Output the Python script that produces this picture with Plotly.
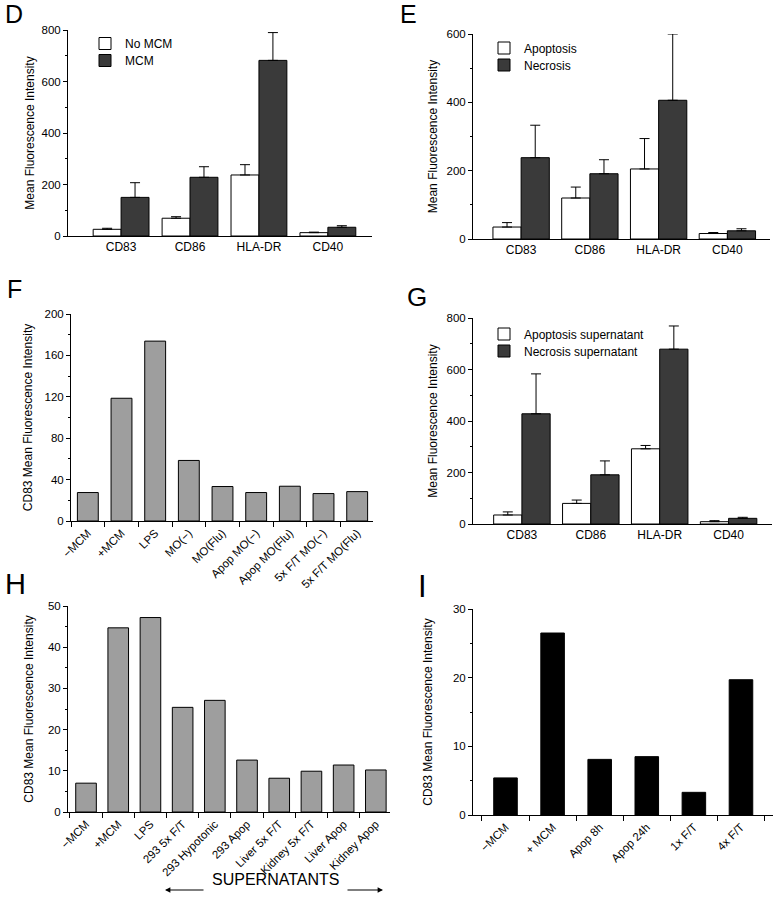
import plotly.graph_objects as go

W, H = 781, 900
FONT = "Liberation Sans, Arial, Helvetica, sans-serif"

# ---------------- data ----------------
markers = ["CD83", "CD86", "HLA-DR", "CD40"]

d_no_mcm = [26, 69, 237, 13]
d_no_mcm_err = [4, 6, 40, 2]
d_mcm = [150, 228, 682, 34]
d_mcm_err = [57, 41, 108, 6]

e_apop = [35, 120, 205, 16]
e_apop_err = [13, 32, 89, 3]
e_necr = [238, 191, 406, 24]
e_necr_err = [95, 41, 194, 6]

f_labels = ["\u2212MCM", "+MCM", "LPS", "MO(\u2212)", "MO(Flu)", "Apop MO(\u2212)",
            "Apop MO(Flu)", "5x F/T MO(\u2212)", "5x F/T MO(Flu)"]
f_values = [27.5, 118.6, 173.8, 58.5, 33.3, 27.5, 33.6, 26.5, 28.4]

g_apop_sup = [35, 80, 292, 9]
g_apop_sup_err = [12, 13, 13, 4]
g_necr_sup = [428, 191, 679, 22]
g_necr_sup_err = [155, 54, 90, 4]

h_labels = ["\u2212MCM", "+MCM", "LPS", "293 5x F/T", "293 Hypotonic", "293 Apop",
            "Liver 5x F/T", "Kidney 5x F/T", "Liver Apop", "Kidney Apop"]
h_values = [7.0, 44.7, 47.2, 25.4, 27.1, 12.6, 8.2, 9.9, 11.4, 10.2]

i_labels = ["\u2212MCM", "+ MCM", "Apop 8h", "Apop 24h", "1x F/T", "4x F/T"]
i_values = [5.4, 26.5, 8.1, 8.5, 3.3, 19.7]

WHITE = "#ffffff"
DARK = "#3a3a3a"
GRAY = "#9e9e9e"


def xd(a, b):
    return [a / W, b / W]


def yd(top, bottom):
    return [1 - bottom / H, 1 - top / H]


fig = go.Figure()


def err(arr):
    return dict(type="data", array=arr, arrayminus=[0] * len(arr), symmetric=False,
                color="black", thickness=1, width=5)


def grouped(ax, cats, v1, e1, n1, v2, e2, n2, w, leg1, leg2):
    xa = "x" if ax == 1 else f"x{ax}"
    ya = "y" if ax == 1 else f"y{ax}"
    fig.add_bar(x=cats, y=v1, name=n1, width=w, offset=-w, xaxis=xa, yaxis=ya,
                marker=dict(color=WHITE, line=dict(color="black", width=1)),
                error_y=err(e1), legend=leg1, hoverinfo="skip")
    fig.add_bar(x=cats, y=v2, name=n2, width=w, offset=0, xaxis=xa, yaxis=ya,
                marker=dict(color=DARK, line=dict(color="black", width=1)),
                error_y=err(e2), legend=leg2, hoverinfo="skip")


def single(ax, cats, vals, w, color):
    xa = "x" if ax == 1 else f"x{ax}"
    ya = "y" if ax == 1 else f"y{ax}"
    fig.add_bar(x=cats, y=vals, width=w, xaxis=xa, yaxis=ya, showlegend=False,
                marker=dict(color=color, line=dict(color="black", width=1)),
                hoverinfo="skip")


grouped(1, markers, d_no_mcm, d_no_mcm_err, "No MCM", d_mcm, d_mcm_err, "MCM", 0.405,
        "legend", "legend2")
grouped(2, markers, e_apop, e_apop_err, "Apoptosis", e_necr, e_necr_err, "Necrosis", 0.41,
        "legend3", "legend4")
single(3, f_labels, f_values, 0.62, GRAY)
grouped(4, markers, g_apop_sup, g_apop_sup_err, "Apoptosis supernatant",
        g_necr_sup, g_necr_sup_err, "Necrosis supernatant", 0.41, "legend5", "legend6")
single(5, h_labels, h_values, 0.64, GRAY)
single(6, i_labels, i_values, 0.5, "#000000")

tickfont_y = dict(family=FONT, size=11.5, color="black")


def xaxis(domain, rng, anchor, boundaries=False, angle=0, fs=12):
    d = dict(domain=domain, range=rng, anchor=anchor, type="category", automargin=False,
             showline=True, linecolor="black", linewidth=1, showgrid=False,
             zeroline=False, tickfont=dict(family=FONT, size=fs, color="black"),
             tickangle=angle, fixedrange=True)
    if boundaries:
        d.update(tickson="boundaries", ticks="outside", ticklen=5, tickcolor="black",
                 tickwidth=1)
    else:
        d.update(ticks="")
    return d


def yaxis(domain, rng, dtick, anchor, title, standoff):
    return dict(domain=domain, range=rng, anchor=anchor, dtick=dtick, tick0=0,
                automargin=False,
                showline=True, linecolor="black", linewidth=1, showgrid=False,
                zeroline=False, ticks="outside", ticklen=4, tickcolor="black",
                tickfont=tickfont_y,
                minor=dict(ticks="outside", ticklen=2, dtick=dtick / 2, tick0=0,
                           tickcolor="black"),
                title=dict(text=title, font=dict(family=FONT, size=12, color="black"),
                           standoff=standoff),
                fixedrange=True)


MFI = "Mean Fluorescence Intensity"
CD83 = "CD83 Mean Fluorescence Intensity"

layout = dict(
    width=W, height=H, margin=dict(l=0, r=0, t=0, b=0, autoexpand=False),
    paper_bgcolor="white", plot_bgcolor="white", hovermode=False,
    barmode="overlay", font=dict(family=FONT, color="black"),
    xaxis=xaxis(xd(68, 372), [-0.77, 3.64], "y"),
    yaxis=yaxis(yd(30, 236), [0, 800], 200, "x", MFI, 4),
    xaxis2=xaxis(xd(473, 770), [-0.70, 3.62], "y2"),
    yaxis2=yaxis(yd(34, 239), [0, 600], 200, "x2", MFI, 6),
    xaxis3=xaxis(xd(71, 373), [-0.5, 8.47], "y3", True, -45, 11.5),
    yaxis3=yaxis(yd(314, 521), [0, 200], 40, "x3", CD83, 9),
    xaxis4=xaxis(xd(473, 772), [-0.71, 3.63], "y4"),
    yaxis4=yaxis(yd(318, 524), [0, 800], 200, "x4", MFI, 6),
    xaxis5=xaxis(xd(68, 390), [-0.56, 9.44], "y5", True, -45, 11.5),
    yaxis5=yaxis(yd(606, 812), [0, 50], 10, "x5", CD83, 11),
    xaxis6=xaxis(xd(473, 773), [-0.69, 5.68], "y6", True, -45, 11.5),
    yaxis6=yaxis(yd(609, 815), [0, 30], 10, "x6", CD83, 17),
)

leg = dict(font=dict(family=FONT, size=12, color="black"), bgcolor="rgba(0,0,0,0)",
           xanchor="left", yanchor="top", tracegroupgap=0, itemwidth=30,
           itemclick=False, itemdoubleclick=False)
# (legend key, text left x, item center y) in pixels
for key, tx, cy in [("legend", 126, 42), ("legend2", 126, 59),
                    ("legend3", 525, 46.5), ("legend4", 525, 63.5),
                    ("legend5", 525, 332.5), ("legend6", 525, 349.5)]:
    layout[key] = dict(leg, x=(tx - 41) / W, y=1 - (cy - 13) / H)

fig.update_layout(**layout)

# panel letters: (letter, left x, cap center y, size)
for letter, px, py, fs in [("D", 3, 14, 25), ("E", 398, 13.5, 25), ("F", 5, 289, 25),
                           ("G", 405, 297.5, 26), ("H", 3, 583.5, 29), ("I", 416, 586.5, 31)]:
    fig.add_annotation(text=letter, x=px / W, y=1 - py / H, xref="paper", yref="paper",
                       xanchor="left", yanchor="middle", showarrow=False,
                       font=dict(family=FONT, size=fs, color="black"))

# SUPERNATANTS label with arrows
fig.add_annotation(text="SUPERNATANTS", x=275 / W, y=1 - 890 / H, xref="paper", yref="paper",
                   showarrow=False, font=dict(family=FONT, size=16, color="black"))
fig.add_annotation(text="", x=165 / W, y=1 - 890 / H, xref="paper", yref="paper",
                   showarrow=True, ax=40, ay=0, arrowhead=2, arrowsize=0.9, arrowwidth=1.2,
                   arrowcolor="black")
fig.add_annotation(text="", x=383 / W, y=1 - 890 / H, xref="paper", yref="paper",
                   showarrow=True, ax=-37, ay=0, arrowhead=2, arrowsize=0.9, arrowwidth=1.2,
                   arrowcolor="black")

fig.write_html("out.html", config={"displayModeBar": False, "staticPlot": True},
               post_script="document.body.style.margin='0px';")
